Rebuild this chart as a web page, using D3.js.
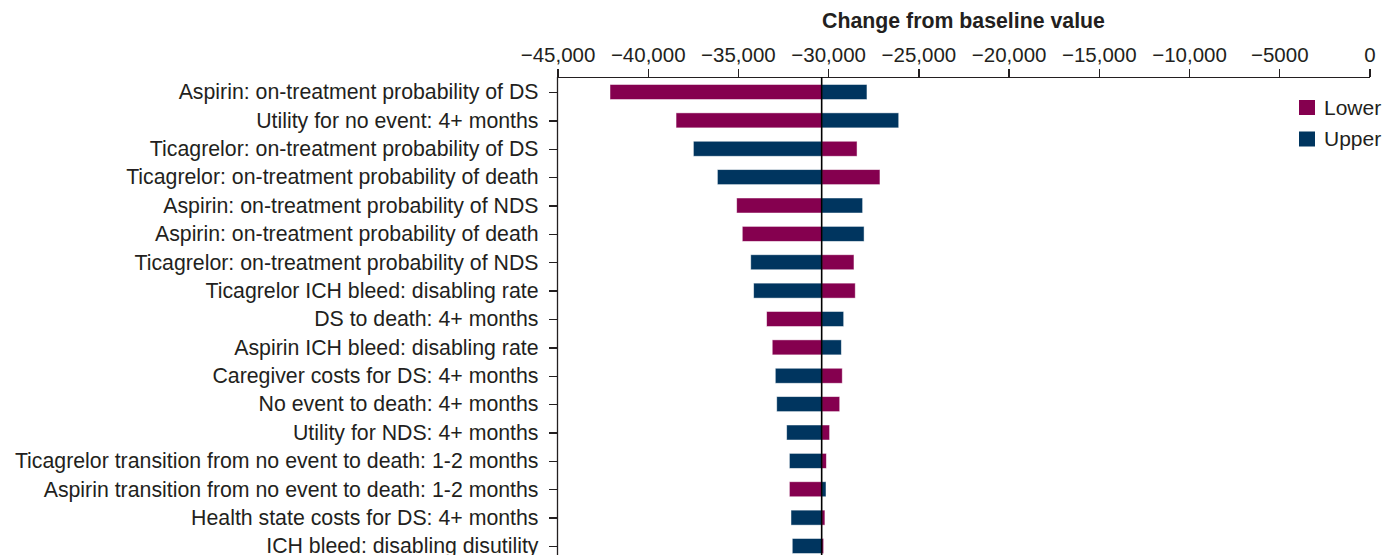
<!DOCTYPE html>
<html lang="en">
<head>
<meta charset="utf-8">
<title>Tornado diagram</title>
<script src="https://cdn.jsdelivr.net/npm/d3@7"></script>
<style>
  body { margin: 0; background: #fff; }
  svg { display: block; font-family: "Liberation Sans", Arial, Helvetica, sans-serif; }
  .axis text { fill: #231f20; }
  .axis line, .axis path { stroke: #231f20; stroke-width: 1.3; shape-rendering: crispEdges; }
</style>
</head>
<body>
<div id="chart"></div>
<script>
// parameters, top to bottom
var categories = [
  "Aspirin: on-treatment probability of DS",
  "Utility for no event: 4+ months",
  "Ticagrelor: on-treatment probability of DS",
  "Ticagrelor: on-treatment probability of death",
  "Aspirin: on-treatment probability of NDS",
  "Aspirin: on-treatment probability of death",
  "Ticagrelor: on-treatment probability of NDS",
  "Ticagrelor ICH bleed: disabling rate",
  "DS to death: 4+ months",
  "Aspirin ICH bleed: disabling rate",
  "Caregiver costs for DS: 4+ months",
  "No event to death: 4+ months",
  "Utility for NDS: 4+ months",
  "Ticagrelor transition from no event to death: 1-2 months",
  "Aspirin transition from no event to death: 1-2 months",
  "Health state costs for DS: 4+ months",
  "ICH bleed: disabling disutility"
];

// result at the lower / upper bound of each parameter
var lowerValues = [-42090, -38430, -28400, -27130, -35070, -34760, -28570, -28500,
  -33410, -33100, -29220, -29360, -29920, -30100, -32150, -30180, -30250];
var upperValues = [-27850, -26090, -37470, -36140, -28090, -28010, -34290, -34130,
  -29140, -29270, -32930, -32850, -32300, -32150, -30120, -32060, -31990];

var baseline = -30360;
var tickValues = [-45000, -40000, -35000, -30000, -25000, -20000, -15000, -10000, -5000, 0];
var seriesNames = ["Lower", "Upper"];

var lowerColor = "#85004f";
var upperColor = "#00355f";

var width = 1386, height = 555;

var svg = d3.select("#chart").append("svg")
  .attr("width", width)
  .attr("height", height);

var x = d3.scaleLinear().domain([-45000, 0]).range([557.5, 1369.5]);
var y = d3.scalePoint().domain(categories).range([92, 92 + 16 * 28.375]);
var barH = 15;
var axisY = 77;

// number format: minus sign, no comma for 4 digits
function fmt(d) {
  if (d === 0) return "0";
  var a = Math.abs(d);
  return "\u2212" + (a >= 10000 ? d3.format(",")(a) : String(a));
}

// bars
var rows = categories.map(function(c, i) {
  return { name: c, lower: lowerValues[i], upper: upperValues[i] };
});

var g = svg.append("g");
rows.forEach(function(r) {
  [["lower", lowerColor], ["upper", upperColor]].forEach(function(s) {
    var v = r[s[0]];
    g.append("rect")
      .attr("x", Math.min(x(v), x(baseline)))
      .attr("width", Math.abs(x(v) - x(baseline)))
      .attr("y", y(r.name) - barH / 2)
      .attr("height", barH)
      .attr("fill", s[1])
      .attr("stroke", "#fff")
      .attr("stroke-opacity", 0.6)
      .attr("stroke-width", 0.8);
  });
});

// top axis
var xAxis = svg.append("g")
  .attr("class", "axis")
  .attr("transform", "translate(0," + axisY + ")")
  .call(d3.axisTop(x).tickValues(tickValues).tickFormat(fmt).tickSize(8).tickSizeOuter(0).tickPadding(7));
xAxis.selectAll("text").style("font-size", "20.5px");

// left axis
var yAxis = svg.append("g")
  .attr("class", "axis")
  .attr("transform", "translate(" + x(-45000) + ",0)")
  .call(d3.axisLeft(y).tickSize(9).tickPadding(10));
yAxis.select(".domain").remove();
yAxis.selectAll("text").style("font-size", "21.3px");
svg.append("line")
  .attr("x1", x(-45000)).attr("x2", x(-45000))
  .attr("y1", axisY).attr("y2", height)
  .attr("stroke", "#231f20").attr("stroke-width", 1.3);

// baseline
svg.append("line")
  .attr("x1", x(baseline)).attr("x2", x(baseline))
  .attr("y1", axisY).attr("y2", height)
  .attr("stroke", "#000").attr("stroke-width", 1.6);

// title
svg.append("text")
  .attr("x", (x(-45000) + x(0)) / 2)
  .attr("y", 28)
  .attr("text-anchor", "middle")
  .style("font-size", "21.3px")
  .style("font-weight", "bold")
  .attr("fill", "#231f20")
  .text("Change from baseline value");

// legend
var legend = svg.append("g").attr("transform", "translate(1299,100)");
seriesNames.forEach(function(name, i) {
  legend.append("rect")
    .attr("x", 0).attr("y", i * 31.5)
    .attr("width", 16).attr("height", 15)
    .attr("fill", i === 0 ? lowerColor : upperColor);
  legend.append("text")
    .attr("x", 25).attr("y", i * 31.5 + 7.5)
    .attr("dy", "0.35em")
    .style("font-size", "21px")
    .attr("fill", "#231f20")
    .text(name);
});
</script>
</body>
</html>
